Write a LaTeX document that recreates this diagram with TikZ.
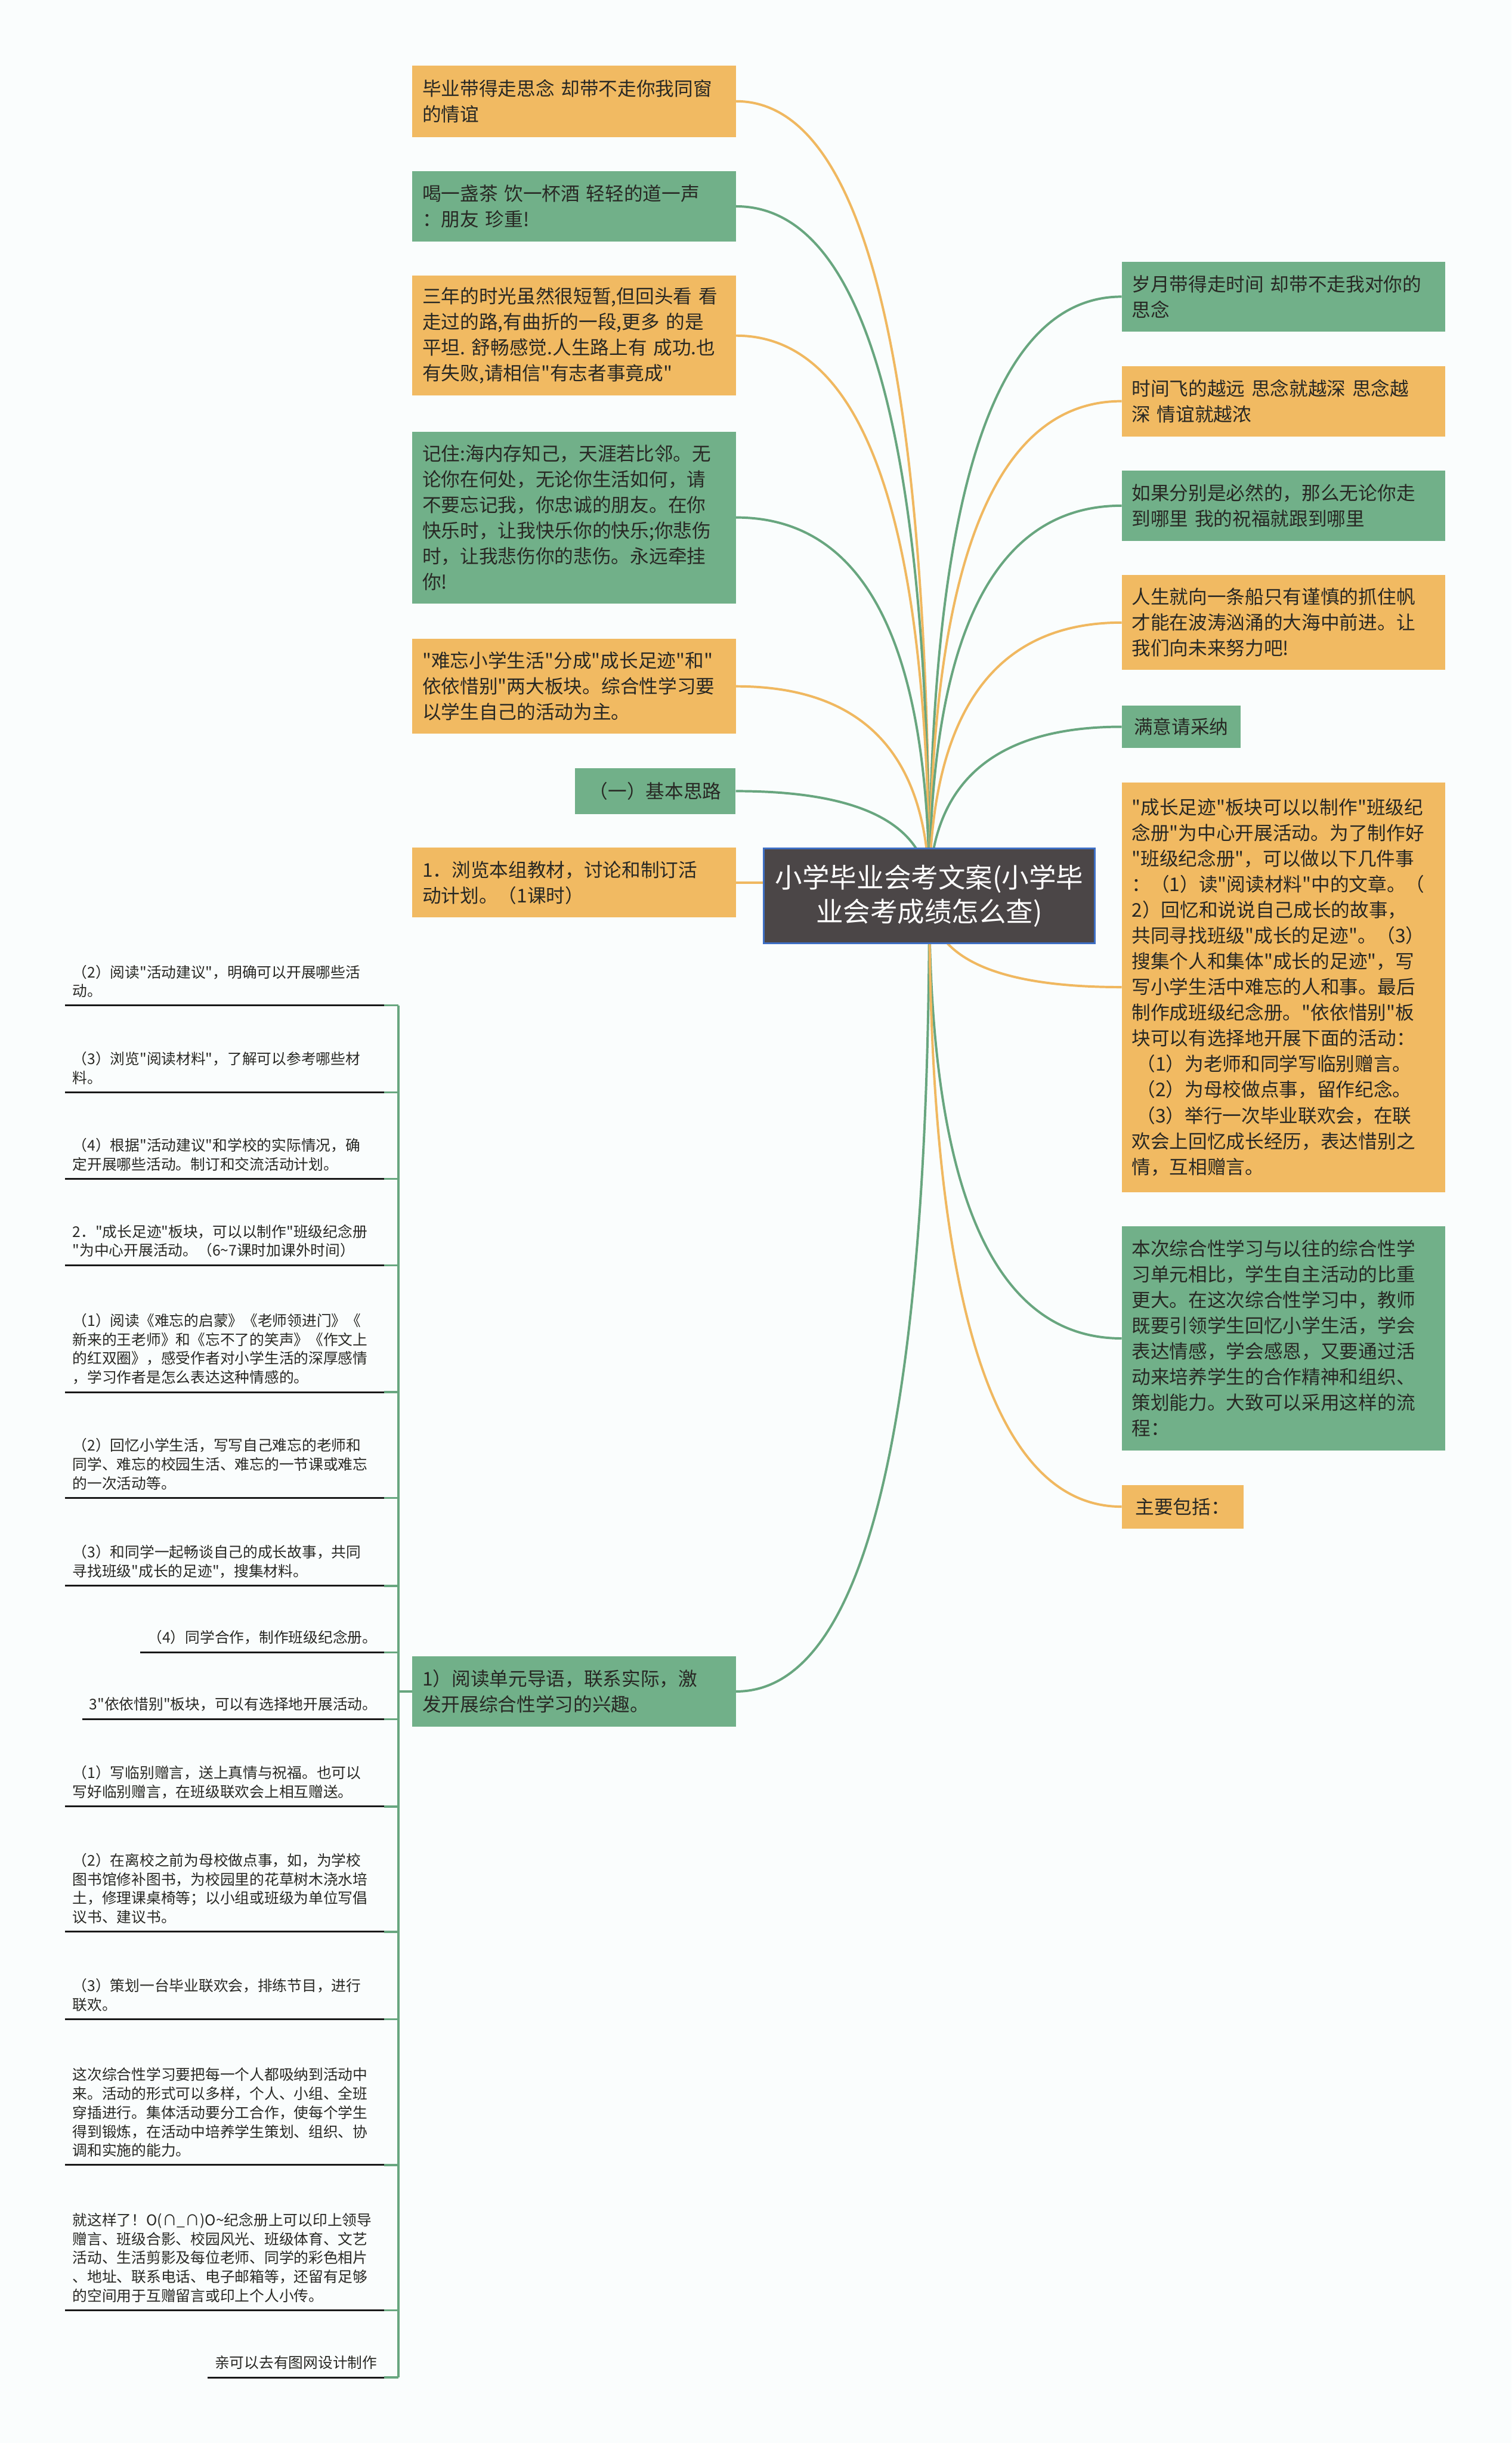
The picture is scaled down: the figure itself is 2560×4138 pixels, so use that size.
\documentclass[tikz,border=0pt]{standalone}
\usepackage{fontspec}
\setmainfont{Noto Sans CJK SC}
\newfontfamily\cjk{Noto Sans CJK SC}
\usetikzlibrary{calc}
\definecolor{ofill}{RGB}{241,186,98}
\definecolor{gfill}{RGB}{113,176,137}
\definecolor{oline}{RGB}{240,184,96}
\definecolor{gline}{RGB}{104,166,127}
\definecolor{txt}{RGB}{40,40,36}
\definecolor{rootfill}{RGB}{75,70,71}
\definecolor{rootedge}{RGB}{62,111,196}
\definecolor{bgc}{RGB}{250,253,253}
\pgfdeclarelayer{back}
\pgfdeclarelayer{links}
\pgfsetlayers{back,links,main}
\newcommand{\lnk}[2]{\draw[#1] (#2) .. controls ($(#2)!0.6667!(#2 -| root.center)$) and ($(root.center)!0.6667!(#2 -| root.center)$) .. (root.center);}
\tikzset{
  cardbox/.style={rectangle, inner xsep=17pt, inner ysep=0pt, text width=514pt, align=left, font=\cjk\fontsize{32}{43.5}\selectfont, text=txt},
  obox/.style={cardbox, fill=ofill},
  gbox/.style={cardbox, fill=gfill},
  tagbox/.style={rectangle, inner xsep=0pt, inner ysep=0pt, align=center, font=\cjk\fontsize{32}{43.5}\selectfont, text=txt},
  rootbox/.style={rectangle, fill=rootfill, draw=rootedge, line width=3pt, minimum width=560pt, minimum height=161pt, align=center, text=white, font=\cjk\fontsize{46}{58}\selectfont},
  litem/.style={rectangle, anchor=south east, inner xsep=12pt, inner ysep=13pt, text width=516pt, align=left, font=\cjk\fontsize{25}{32}\selectfont, text=txt},
  litems/.style={rectangle, anchor=south east, inner xsep=12pt, inner ysep=13pt, align=left, font=\cjk\fontsize{25}{32}\selectfont, text=txt},
  uline/.style={draw=black!90, line width=3pt},
  olink/.style={draw=oline, line width=4pt},
  glink/.style={draw=gline, line width=4pt},
  buslink/.style={draw=gline, line width=3.5pt},
}
\begin{document}
\begin{tikzpicture}[x=1pt,y=-1pt]
\useasboundingbox (0,0) rectangle (2560,4138);
\begin{pgfonlayer}{back}
\fill[bgc] (0,0) rectangle (2560,4138);
\end{pgfonlayer}

% root
\node[rootbox] (root) at (1574,1517.5) {小学毕业会考文案(小学毕\\业会考成绩怎么查)};

% left column
\node[obox, minimum height=121pt] (l1) at (972.5,171.5) {毕业带得走思念~却带不走你我同窗\\的情谊};
\node[gbox, minimum height=119pt] (l2) at (972.5,349.5) {喝一盏茶~饮一杯酒~轻轻的道一声\\：朋友~珍重!};
\node[obox, minimum height=203pt] (l3) at (972.5,568.5) {三年的时光虽然很短暂,但回头看~看\\走过的路,有曲折的一段,更多~的是\\平坦.~舒畅感觉.人生路上有~成功.也\\有失败,请相信"有志者事竟成"};
\node[gbox, minimum height=291pt] (l4) at (972.5,876.5) {记住:海内存知己，天涯若比邻。无\\论你在何处，无论你生活如何，请\\不要忘记我，你忠诚的朋友。在你\\快乐时，让我快乐你的快乐;你悲伤\\时，让我悲伤你的悲伤。永远牵挂\\你!};
\node[obox, minimum height=161pt] (l5) at (972.5,1162.5) {"难忘小学生活"分成"成长足迹"和"\\依依惜别"两大板块。综合性学习要\\以学生自己的活动为主。};
\node[tagbox, fill=gfill, minimum width=272pt, minimum height=77pt] (l6) at (1110,1340) {（一）基本思路};
\node[obox, minimum height=118pt] (l7) at (972.5,1495) {1．浏览本组教材，讨论和制订活\\动计划。（1课时）};
\node[gbox, minimum height=120pt] (l8) at (972.5,2865) {1）阅读单元导语，联系实际，激\\发开展综合性学习的兴趣。};

% right column
\node[gbox, minimum height=119pt] (r1) at (2174,502.5) {岁月带得走时间~却带不走我对你的\\思念};
\node[obox, minimum height=119pt] (r2) at (2174,679.5) {时间飞的越远~思念就越深~思念越\\深~情谊就越浓};
\node[gbox, minimum height=119pt] (r3) at (2174,856.5) {如果分别是必然的，那么无论你走\\到哪里~我的祝福就跟到哪里};
\node[obox, minimum height=161pt] (r4) at (2174,1054.5) {人生就向一条船只有谨慎的抓住帆\\才能在波涛汹涌的大海中前进。让\\我们向未来努力吧!};
\node[tagbox, fill=gfill, minimum width=201pt, minimum height=72pt] (r5) at (2000.5,1231) {满意请采纳};
\node[obox, minimum height=694pt] (r6) at (2174,1672) {"成长足迹"板块可以以制作"班级纪\\念册"为中心开展活动。为了制作好\\"班级纪念册"，可以做以下几件事\\：（1）读"阅读材料"中的文章。（\\2）回忆和说说自己成长的故事，\\共同寻找班级"成长的足迹"。（3）\\搜集个人和集体"成长的足迹"，写\\写小学生活中难忘的人和事。最后\\制作成班级纪念册。"依依惜别"板\\块可以有选择地开展下面的活动：\\\hspace*{8pt}（1）为老师和同学写临别赠言。\\\hspace*{8pt}（2）为母校做点事，留作纪念。\\\hspace*{8pt}（3）举行一次毕业联欢会，在联\\欢会上回忆成长经历，表达惜别之\\情，互相赠言。};
\node[gbox, minimum height=380pt] (r7) at (2174,2267) {本次综合性学习与以往的综合性学\\习单元相比，学生自主活动的比重\\更大。在这次综合性学习中，教师\\既要引领学生回忆小学生活，学会\\表达情感，学会感恩，又要通过活\\动来培养学生的合作精神和组织、\\策划能力。大致可以采用这样的流\\程：};
\node[tagbox, fill=ofill, minimum width=206pt, minimum height=74pt] (r8) at (2003,2552) {主要包括：};

% list items
\node[litem] (i1) at (651,1703) {（2）阅读"活动建议"，明确可以开展哪些活\\动。};
\node[litem] (i2) at (651,1850) {（3）浏览"阅读材料"，了解可以参考哪些材\\料。};
\node[litem] (i3) at (651,1997) {（4）根据"活动建议"和学校的实际情况，确\\定开展哪些活动。制订和交流活动计划。};
\node[litem] (i4) at (651,2143) {2．"成长足迹"板块，可以以制作"班级纪念册\\"为中心开展活动。（6\textasciitilde{}7课时加课外时间）};
\node[litem] (i5) at (651,2358) {（1）阅读《难忘的启蒙》《老师领进门》《\\新来的王老师》和《忘不了的笑声》《作文上\\的红双圈》，感受作者对小学生活的深厚感情\\，学习作者是怎么表达这种情感的。};
\node[litem] (i6) at (651,2537) {（2）回忆小学生活，写写自己难忘的老师和\\同学、难忘的校园生活、难忘的一节课或难忘\\的一次活动等。};
\node[litem] (i7) at (651,2686) {（3）和同学一起畅谈自己的成长故事，共同\\寻找班级"成长的足迹"，搜集材料。};
\node[litems] (i8) at (651,2799) {（4）同学合作，制作班级纪念册。};
\node[litems] (i9) at (651,2912) {3"依依惜别"板块，可以有选择地开展活动。};
\node[litem] (i10) at (651,3060) {（1）写临别赠言，送上真情与祝福。也可以\\写好临别赠言，在班级联欢会上相互赠送。};
\node[litem] (i11) at (651,3272) {（2）在离校之前为母校做点事，如，为学校\\图书馆修补图书，为校园里的花草树木浇水培\\土，修理课桌椅等；以小组或班级为单位写倡\\议书、建议书。};
\node[litem] (i12) at (651,3420) {（3）策划一台毕业联欢会，排练节目，进行\\联欢。};
\node[litem] (i13) at (651,3667) {这次综合性学习要把每一个人都吸纳到活动中\\来。活动的形式可以多样，个人、小组、全班\\穿插进行。集体活动要分工合作，使每个学生\\得到锻炼，在活动中培养学生策划、组织、协\\调和实施的能力。};
\node[litem] (i14) at (651,3913) {就这样了！O(∩\_∩)O\textasciitilde{}纪念册上可以印上领导\\赠言、班级合影、校园风光、班级体育、文艺\\活动、生活剪影及每位老师、同学的彩色相片\\、地址、联系电话、电子邮箱等，还留有足够\\的空间用于互赠留言或印上个人小传。};
\node[litems] (i15) at (651,4027) {亲可以去有图网设计制作};

\coordinate (bus) at (675,2865);
\foreach \i in {1,...,15} {
  \draw[uline] (i\i.south west) -- (i\i.south east);
  \draw[buslink] (i\i.south east) -- (i\i.south east -| bus);
}
\draw[buslink] (i1.south east -| bus) -- (i15.south east -| bus);
\draw[buslink] (l8.west) -- (l8.west -| bus);

\begin{pgfonlayer}{links}
\lnk{olink}{l1.east}
\lnk{glink}{l2.east}
\lnk{olink}{l3.east}
\lnk{glink}{l4.east}
\lnk{olink}{l5.east}
\lnk{glink}{l6.east}
\lnk{olink}{l7.east}
\lnk{glink}{l8.east}
\lnk{glink}{r1.west}
\lnk{olink}{r2.west}
\lnk{glink}{r3.west}
\lnk{olink}{r4.west}
\lnk{glink}{r5.west}
\lnk{olink}{r6.west}
\lnk{glink}{r7.west}
\lnk{olink}{r8.west}
\end{pgfonlayer}
\end{tikzpicture}
\end{document}
